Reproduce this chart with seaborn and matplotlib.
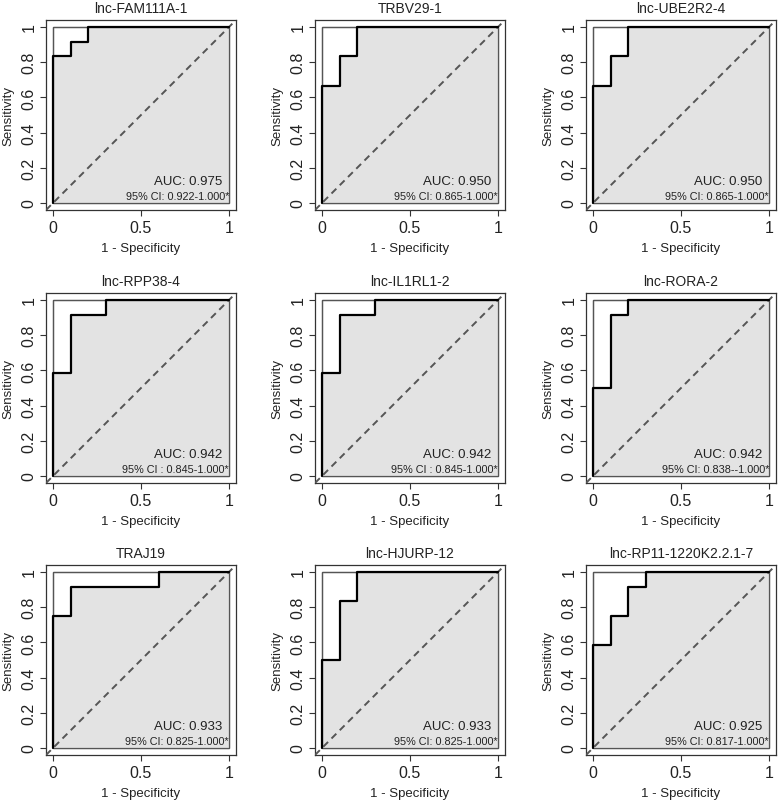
import matplotlib
matplotlib.use("Agg")
import matplotlib.pyplot as plt
import seaborn as sns
from matplotlib.patches import Rectangle

# ROC staircase vertices (1 - specificity, sensitivity)
names = ["lnc-FAM111A-1", "TRBV29-1", "lnc-UBE2R2-4",
         "lnc-RPP38-4", "lnc-IL1RL1-2", "lnc-RORA-2",
         "TRAJ19", "lnc-HJURP-12", "lnc-RP11-1220K2.2.1-7"]

fpr = [
    [0, 0, 0.1, 0.1, 0.2, 0.2, 1],
    [0, 0, 0.1, 0.1, 0.2, 0.2, 1],
    [0, 0, 0.1, 0.1, 0.2, 0.2, 1],
    [0, 0, 0.1, 0.1, 0.3, 0.3, 1],
    [0, 0, 0.1, 0.1, 0.3, 0.3, 1],
    [0, 0, 0.1, 0.1, 0.2, 0.2, 1],
    [0, 0, 0.1, 0.1, 0.6, 0.6, 1],
    [0, 0, 0.1, 0.1, 0.2, 0.2, 1],
    [0, 0, 0.1, 0.1, 0.2, 0.2, 0.3, 0.3, 1],
]
tpr = [
    [0, 0.833, 0.833, 0.917, 0.917, 1, 1],
    [0, 0.667, 0.667, 0.833, 0.833, 1, 1],
    [0, 0.667, 0.667, 0.833, 0.833, 1, 1],
    [0, 0.583, 0.583, 0.917, 0.917, 1, 1],
    [0, 0.583, 0.583, 0.917, 0.917, 1, 1],
    [0, 0.5, 0.5, 0.917, 0.917, 1, 1],
    [0, 0.75, 0.75, 0.917, 0.917, 1, 1],
    [0, 0.5, 0.5, 0.833, 0.833, 1, 1],
    [0, 0.583, 0.583, 0.75, 0.75, 0.917, 0.917, 1, 1],
]
auc_labels = ["AUC: 0.975", "AUC: 0.950", "AUC: 0.950",
              "AUC: 0.942", "AUC: 0.942", "AUC: 0.942",
              "AUC: 0.933", "AUC: 0.933", "AUC: 0.925"]
ci_labels = ["95% CI: 0.922-1.000*", "95% CI: 0.865-1.000*", "95% CI: 0.865-1.000*",
             "95% CI : 0.845-1.000*", "95% CI : 0.845-1.000*", "95% CI: 0.838--1.000*",
             "95% CI: 0.825-1.000*", "95% CI: 0.825-1.000*", "95% CI: 0.817-1.000*"]

sns.set_style("ticks")
plt.rcParams["font.family"] = ["Liberation Sans", "DejaVu Sans"]

W, H = 778, 804
fig = plt.figure(figsize=(W / 100, H / 100), dpi=100)

lefts = [46, 315, 586]
tops = [21, 294, 566]
size = 190

for i, name in enumerate(names):
    r, c = divmod(i, 3)
    ax = fig.add_axes([lefts[c] / W, 1 - (tops[r] + size) / H, size / W, size / H])

    # max AUC square, then AUC polygon
    ax.add_patch(Rectangle((0, 0), 1, 1, facecolor="white", edgecolor="#555555", lw=0.9, zorder=1))
    ax.fill_between(fpr[i], tpr[i], 0, color="#e3e3e3", lw=0, zorder=2)
    ax.add_patch(Rectangle((0, 0), 1, 1, facecolor="none", edgecolor="#555555", lw=0.9, zorder=3))
    ax.axline((0, 0), (1, 1), color="#555555", lw=1.4, ls=(0, (3.5, 2.5)), zorder=3)
    sns.lineplot(x=fpr[i], y=tpr[i], sort=False, estimator=None, color="black", lw=1.6, ax=ax, zorder=4)

    ax.text(0.96, 0.125, auc_labels[i], ha="right", va="center", fontsize=9.5, color="#222222")
    ax.text(1.0, 0.04, ci_labels[i], ha="right", va="center", fontsize=7.8, color="#222222")

    ax.set_xlim(-0.04, 1.04)
    ax.set_ylim(-0.04, 1.04)
    ax.set_xticks([0, 0.5, 1])
    ax.set_xticklabels(["0", "0.5", "1"])
    ax.set_yticks([0, 0.2, 0.4, 0.6, 0.8, 1])
    ax.set_yticklabels(["0", "0.2", "0.4", "0.6", "0.8", "1"], rotation=90, va="center")
    ax.tick_params(length=4, width=0.8, color="#333333", labelsize=11.5, labelcolor="#222222", pad=3)
    for s in ax.spines.values():
        s.set_visible(True)
        s.set_linewidth(0.9)
        s.set_color("#333333")
    ax.set_title(name, fontsize=10, color="#222222", pad=6)
    ax.set_xlabel("1 - Specificity", fontsize=9.5, color="#222222", labelpad=5)
    ax.set_ylabel("Sensitivity", fontsize=9.5, color="#222222", labelpad=5)

fig.savefig("out.png", dpi=100)
